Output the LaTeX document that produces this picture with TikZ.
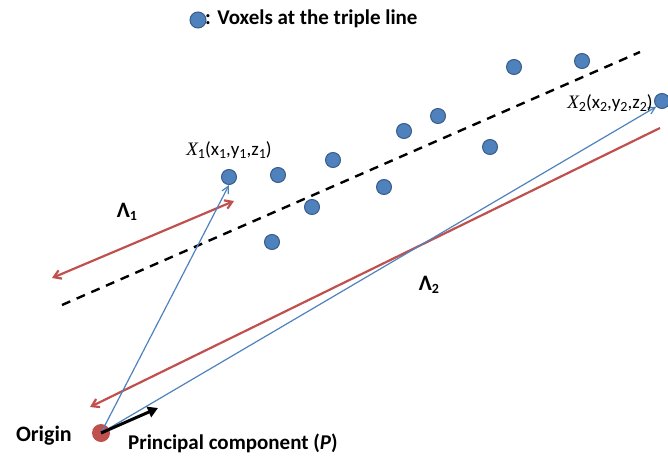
\documentclass[tikz,border=0pt]{standalone}
\usepackage{fontspec}
\setmainfont{Carlito}
\newfontfamily\xfont{Liberation Serif}
\usetikzlibrary{arrows.meta}
\definecolor{dotblue}{HTML}{4F81BD}
\definecolor{dotedge}{HTML}{385D8A}
\definecolor{myred}{HTML}{C0504D}
\newcommand{\sbs}[1]{\raisebox{-0.3ex}{\fontsize{14}{15}\selectfont #1}}
\tikzset{
  voxel/.style={circle,fill=dotblue,draw=dotedge,line width=1pt,inner sep=0pt,minimum size=15pt},
  bvec/.style={draw=dotblue,line width=1.2pt,-{Straight Barb[length=7pt,width=7pt]}},
  rvec/.style={draw=myred,line width=2.2pt},
  lbl/.style={font=\bfseries\fontsize{22}{24}\selectfont,inner sep=0pt},
  pclbl/.style={font=\bfseries\fontsize{21}{23}\selectfont,inner sep=0pt},
  leglbl/.style={font=\bfseries\fontsize{21}{23}\selectfont,inner sep=0pt},
  xlbl/.style={font=\fontsize{19}{21}\selectfont,inner sep=0pt}
}
\begin{document}
\begin{tikzpicture}[x=1pt,y=-1pt]
\useasboundingbox (0,0) rectangle (668,460);
% legend
\node[voxel,minimum size=16pt] (leg) at (198,20) {};
\node[leglbl,anchor=west] (legt) at (205,19) {: Voxels at the triple line};
% dashed line
\coordinate (d1) at (62,305);
\coordinate (d2) at (640,52);
\draw[black,line width=2.4pt,dash pattern=on 9pt off 7pt] (d1) -- (d2);
% voxels
\node[voxel] (v1) at (229,177) {};
\node[voxel] (v2) at (278,175) {};
\node[voxel] (v3) at (333,160) {};
\node[voxel] (v4) at (312,207) {};
\node[voxel] (v5) at (272,242) {};
\node[voxel] (v6) at (384,187) {};
\node[voxel] (v7) at (404,131) {};
\node[voxel] (v8) at (438,116) {};
\node[voxel] (v9) at (490,147) {};
\node[voxel] (v10) at (514,67) {};
\node[voxel] (v11) at (582,61) {};
\node[voxel] (v12) at (662,101) {};
% origin
\node[circle,fill=myred,inner sep=0pt,minimum size=18pt] (o) at (101,433) {};
% red lines
\coordinate (r1a) at (52,278);
\coordinate (r1b) at (234,201);
\draw[rvec,{Straight Barb[length=7pt,width=9pt]}-{Straight Barb[length=7pt,width=9pt]}] (r1a) -- (r1b);
\coordinate (r2a) at (90,407);
\coordinate (r2b) at (660,128);
\draw[rvec,{Straight Barb[length=7pt,width=9pt]}-] (r2a) -- (r2b);
% blue vectors
\draw[bvec] (o.center) -- (v1.south);
\draw[bvec] (o.center) -- (v12.south west);
% principal component
\coordinate (pc) at (158,408);
\draw[black,line width=3pt,-{Triangle[length=10pt,width=11pt]}] (o.center) -- (pc);
% labels
\node[xlbl] (x1) at (229,150) {{\xfont\itshape X}\sbs{1}(x\sbs{1},y\sbs{1},z\sbs{1})};
\node[xlbl] (x2) at (610,103) {{\xfont\itshape X}\sbs{2}(x\sbs{2},y\sbs{2},z\sbs{2})};
\node[lbl] (l1) at (127,212) {Λ\sbs{\bfseries 1}};
\node[lbl] (l2) at (429,285) {Λ\sbs{\bfseries 2}};
\node[lbl,anchor=east] (orig) at (72,436) {Origin};
\node[pclbl,anchor=west] (pcl) at (128,443) {Principal component (\textit{P})};
\end{tikzpicture}
\end{document}
